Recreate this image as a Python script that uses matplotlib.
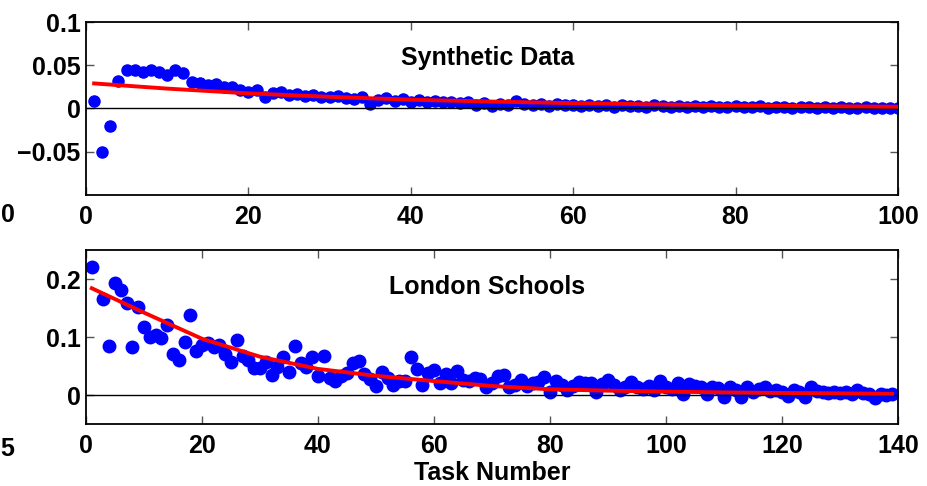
import numpy as np
import matplotlib
matplotlib.use("Agg")
import matplotlib.pyplot as plt

plt.rcParams['font.family'] = ['Liberation Sans', 'DejaVu Sans']
plt.rcParams['font.weight'] = 'bold'

# ---------------- data ----------------
synth_tasks = list(range(1, 101))
synth_values = [
    0.009, -0.050, -0.020, 0.032, 0.044, 0.044, 0.042, 0.044, 0.042, 0.039,
    0.044, 0.041, 0.031, 0.029, 0.027, 0.028, 0.025, 0.025, 0.021, 0.019,
    0.021, 0.013, 0.018, 0.019, 0.016, 0.017, 0.014, 0.016, 0.013, 0.013,
    0.015, 0.012, 0.011, 0.013, 0.005, 0.010, 0.012, 0.009, 0.011, 0.008,
    0.010, 0.008, 0.009, 0.007, 0.008, 0.006, 0.008, 0.004, 0.006, 0.003,
    0.005, 0.004, 0.009, 0.005, 0.004, 0.005, 0.003, 0.005, 0.004, 0.004,
    0.003, 0.004, 0.003, 0.004, 0.002, 0.004, 0.003, 0.003, 0.002, 0.004,
    0.003, 0.002, 0.003, 0.002, 0.003, 0.002, 0.003, 0.002, 0.002, 0.003,
    0.002, 0.002, 0.003, 0.001, 0.002, 0.002, 0.001, 0.002, 0.002, 0.001,
    0.002, 0.001, 0.002, 0.001, 0.001, 0.002, 0.001, 0.001, 0.001, 0.001,
]
synth_fit_x = [1, 10, 20, 30, 40, 50, 60, 70, 80, 90, 100]
synth_fit_y = [0.029, 0.023, 0.0175, 0.0135, 0.0102, 0.0080, 0.0062, 0.0048, 0.0036, 0.0027, 0.0020]

london_tasks = list(range(1, 140))
london_values = [
    0.220, np.nan, 0.166, 0.085, 0.193, 0.181, 0.159, 0.083, 0.152, 0.118,
    0.100, 0.104, 0.099, 0.120, 0.070, 0.060, 0.091, 0.138, 0.076, 0.086,
    0.089, 0.083, 0.087, 0.070, 0.057, 0.095, 0.067, 0.060, 0.046, 0.046,
    0.057, 0.034, 0.049, 0.065, 0.039, 0.085, 0.055, 0.049, 0.066, 0.033,
    0.068, 0.029, 0.024, 0.033, 0.038, 0.055, 0.059, 0.037, 0.027, 0.016,
    0.040, 0.029, 0.017, 0.024, 0.024, 0.066, 0.044, 0.017, 0.038, 0.043,
    0.020, 0.036, 0.021, 0.042, 0.026, 0.025, 0.030, 0.028, 0.013, 0.021,
    0.033, 0.034, 0.014, 0.018, 0.026, 0.016, 0.021, 0.023, 0.031, 0.006,
    0.025, 0.017, 0.009, 0.015, 0.022, 0.020, 0.021, 0.006, 0.019, 0.026,
    0.017, 0.009, 0.013, 0.023, 0.013, 0.010, 0.015, 0.008, 0.025, 0.013,
    0.011, 0.020, 0.001, 0.019, 0.016, 0.014, 0.002, 0.014, 0.012, -0.003,
    0.014, 0.008, -0.004, 0.013, 0.006, 0.010, 0.014, 0.007, 0.008, 0.005,
    -0.002, 0.008, 0.006, -0.004, 0.013, 0.007, 0.006, 0.004, 0.006, 0.003,
    0.005, 0.002, 0.009, 0.003, 0.001, -0.006, 0.002, 0.000, 0.001,
]
london_fit_x = [1, 10, 20, 30, 40, 50, 60, 70, 80, 90, 100, 110, 120, 130, 139]
london_fit_y = [0.184, 0.142, 0.097, 0.066, 0.045, 0.033, 0.024, 0.0155, 0.0098,
                0.0075, 0.0058, 0.0045, 0.0035, 0.0028, 0.0020]

panel_titles = ["Synthetic Data", "London Schools"]
x_label = "Task Number"

# ---------------- figure ----------------
W, H = 927, 486
fig = plt.figure(figsize=(W / 100, H / 100), dpi=100)

def px_axes(l, t, r, b):
    return fig.add_axes([l / W, 1 - b / H, (r - l) / W, (b - t) / H])

ax1 = px_axes(86, 22, 898, 195)
ax2 = px_axes(86, 250, 898, 424)

FS = 18

def style(ax, xlim, ylim, xticks, yticks):
    ax.set_xlim(*xlim)
    ax.set_ylim(*ylim)
    ax.set_xticks(xticks)
    ax.set_yticks(yticks)
    ax.set_xticklabels([str(t) for t in xticks], fontsize=FS, fontweight='bold')
    ax.set_yticklabels([("%g" % t).replace("-", "\u2212") for t in yticks],
                       fontsize=FS, fontweight='bold')
    ax.tick_params(direction='in', length=6, width=1, top=True, right=True,
                   color='#555555')
    ax.tick_params(axis='x', pad=7)
    ax.tick_params(axis='y', pad=4)
    for s in ax.spines.values():
        s.set_linewidth(1.3)
    ax.axhline(0, color='black', lw=1.0, zorder=2.5)

ax1.plot(synth_tasks, synth_values, 'o', color='#0000ff', ms=8, mec='#0000ff', zorder=2)
ax1.plot(synth_fit_x, synth_fit_y, '-', color='#ff0000', lw=2.8, zorder=3)
style(ax1, (0, 100), (-0.1, 0.1), [0, 20, 40, 60, 80, 100], [-0.05, 0, 0.05, 0.1])
ax1.text(0.495, 0.79, panel_titles[0], transform=ax1.transAxes, ha='center', va='center',
         fontsize=FS, fontweight='bold')

ax2.plot(london_tasks, london_values, 'o', color='#0000ff', ms=9, mec='#0000ff', zorder=2)
ax2.plot(london_fit_x, london_fit_y, '-', color='#ff0000', lw=2.8, zorder=3)
style(ax2, (0, 140), (-0.05, 0.25), [0, 20, 40, 60, 80, 100, 120, 140], [0, 0.1, 0.2])
ax2.text(0.494, 0.787, panel_titles[1], transform=ax2.transAxes, ha='center', va='center',
         fontsize=FS, fontweight='bold')

fig.text(492 / W, 1 - 473 / H, x_label, ha='center', va='center', fontsize=FS,
         fontweight='bold')

# label fragments at the left edge
fig.text(0.5 / W, 1 - 215 / H, "0", ha='left', va='center', fontsize=FS, fontweight='bold')
fig.text(0.5 / W, 1 - 449 / H, "5", ha='left', va='center', fontsize=FS, fontweight='bold')

fig.savefig("out.png", dpi=100)
